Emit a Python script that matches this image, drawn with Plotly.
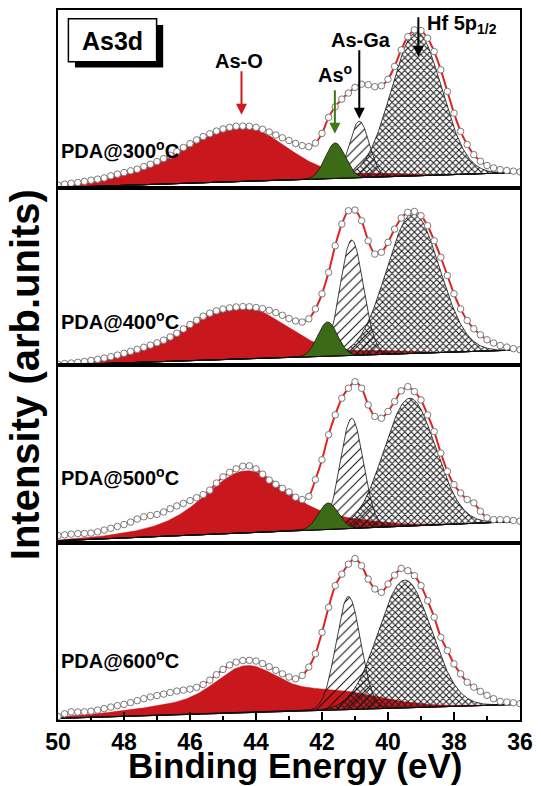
import numpy as np
import plotly.graph_objects as go
from plotly.subplots import make_subplots

# Binding-energy grid of the measured spectra (eV), 50 -> 36 in 0.2 eV steps
energy = np.round(np.arange(50.0, 35.95, -0.2), 1)

anneal_labels = ["PDA@300<sup>o</sup>C", "PDA@400<sup>o</sup>C",
                 "PDA@500<sup>o</sup>C", "PDA@600<sup>o</sup>C"]

# Measured As3d / Hf5p intensity (arb. units, each panel on a 0-100 scale)
counts_300 = [1.3, 1.9, 2.4, 2.8, 3.4, 4.1, 4.7, 5.4, 6.6, 7.5,
              8.4, 9.4, 10.3, 11.8, 13.1, 14.6, 16.3, 18.2, 20.2, 22.5,
              24.7, 26.8, 28.7, 30.3, 31.8, 33.0, 33.9, 34.5, 34.6, 34.5,
              33.9, 32.8, 31.3, 29.6, 28.0, 26.5, 24.8, 23.6, 23.0, 25.0,
              30.5, 39.5, 45.5, 49.8, 53.2, 56.4, 58.2, 57.9, 56.8, 57.3,
              61.0, 68.2, 77.5, 85.0, 88.8, 88.4, 84.1, 76.6, 66.3, 54.1,
              41.9, 31.6, 24.2, 18.5, 14.8, 12.4, 11.0, 10.1, 9.6, 9.2, 8.8]
counts_400 = [0.4, 0.8, 1.1, 1.5, 2.0, 2.6, 3.2, 3.9, 4.7, 5.6,
              6.6, 7.7, 8.8, 10.0, 11.2, 12.5, 14.0, 15.8, 17.9, 20.3,
              22.8, 25.2, 27.5, 29.2, 30.5, 31.5, 32.2, 32.7, 32.9, 32.8,
              32.4, 31.8, 30.8, 29.5, 28.0, 26.2, 24.8, 24.2, 26.0, 31.6,
              40.1, 52.2, 67.2, 79.4, 86.9, 87.3, 81.3, 70.0, 62.5, 63.5,
              69.1, 76.6, 82.8, 86.0, 86.5, 84.1, 78.5, 70.0, 60.7, 50.4,
              40.1, 31.6, 25.1, 20.4, 17.0, 14.2, 12.4, 11.0, 10.1, 9.2, 8.6]
counts_500 = [3.9, 4.3, 4.7, 5.0, 5.1, 5.3, 6.0, 7.0, 8.0, 9.0,
              10.1, 11.5, 13.2, 14.5, 15.2, 15.8, 17.2, 19.0, 20.6, 22.0,
              23.6, 25.2, 27.0, 29.5, 33.5, 37.0, 39.5, 41.5, 43.0, 43.2,
              41.5, 38.5, 35.2, 32.8, 30.5, 28.5, 25.5, 24.2, 26.0, 35.4,
              46.6, 60.7, 71.9, 81.3, 86.9, 90.6, 86.9, 77.5, 71.0, 70.0,
              73.8, 79.4, 85.4, 87.8, 85.0, 80.3, 71.9, 62.5, 50.4, 40.1,
              32.6, 27.9, 24.2, 22.3, 17.6, 13.9, 12.9, 12.9, 12.9, 12.4, 12.0]
counts_600 = [2.0, 3.5, 4.6, 4.5, 4.6, 5.0, 5.6, 6.4, 7.3, 8.1,
              8.8, 9.8, 10.9, 12.0, 13.0, 13.8, 14.6, 15.5, 16.3, 16.8,
              17.4, 18.4, 20.0, 22.5, 25.5, 28.5, 31.0, 32.6, 33.5, 33.6,
              33.2, 31.8, 30.0, 28.0, 26.0, 24.2, 23.2, 25.1, 29.8, 37.3,
              49.4, 63.5, 75.7, 82.2, 87.8, 91.0, 86.9, 79.4, 73.8, 71.9,
              76.6, 81.6, 85.4, 84.1, 81.3, 75.7, 67.2, 57.9, 46.6, 39.1,
              31.6, 26.0, 21.3, 18.5, 16.1, 13.9, 12.0, 10.5, 10.1, 9.7, 9.2]
spectra = [counts_300, counts_400, counts_500, counts_600]

# Linear background: intensity at 50 eV and at 36 eV
background = [(0.0, 8.5), (0.0, 8.5), (1.0, 11.9), (0.9, 8.8)]

# Fitted components: (centre eV, height, gaussian sigma eV)
aso_main = [(44.4, 25.0, 1.35), (44.4, 24.0, 1.35), (44.3, 23.0, 1.10), (44.3, 17.0, 0.85)]
aso_wide = [(46.0, 9.0, 2.0), (46.0, 8.0, 2.0), (44.2, 12.0, 2.2), (44.3, 9.0, 2.6)]
aso_tail = [(40.3, 1.8, 0.8), (40.3, 2.0, 0.8), (41.0, 1.0, 0.8), (41.5, 6.0, 1.3)]
as_metal = [(41.60, 20.0, 0.30), (41.83, 19.3, 0.30), (41.81, 14.9, 0.30), (41.80, 0.0, 0.30)]
as_ga = [(40.87, 31.8, 0.30), (41.10, 65.0, 0.35), (41.10, 62.0, 0.35), (41.20, 63.7, 0.37)]
hf_5p = [(39.14, 81.0, 0.76), (39.24, 79.0, 0.80), (39.34, 72.0, 0.78), (39.49, 72.0, 0.80)]

RED_FILL = "#c8171d"
RED_LINE = "#e3211f"
GREEN = "#3c6b16"
FONT = "Liberation Sans"

fine_e = np.linspace(50.0, 36.0, 701)


def gauss(e, params):
    c, a, s = params
    return a * np.exp(-(e - c) ** 2 / (2.0 * s * s))


def baseline(e, ends):
    lo, hi = ends
    return lo + (hi - lo) * (50.0 - e) / 14.0


def area(bg, comp):
    xs = np.concatenate([fine_e, fine_e[::-1]])
    ys = np.concatenate([bg + comp, bg[::-1]])
    return xs, ys


fig = make_subplots(rows=4, cols=1, shared_xaxes=True, vertical_spacing=0)

for i in range(4):
    row = i + 1
    bg = baseline(fine_e, background[i])

    # As-O (oxide) band
    red = gauss(fine_e, aso_main[i]) + gauss(fine_e, aso_wide[i]) + gauss(fine_e, aso_tail[i])
    xs, ys = area(bg, red)
    fig.add_trace(go.Scatter(x=xs, y=ys, fill="toself", fillcolor=RED_FILL, mode="lines",
                             line=dict(color=RED_FILL, width=0.5), hoverinfo="skip",
                             showlegend=False), row=row, col=1)

    # As-Ga (hatched)
    xs, ys = area(bg, gauss(fine_e, as_ga[i]))
    fig.add_trace(go.Scatter(x=xs, y=ys, fill="toself", fillcolor="rgba(0,0,0,0)", mode="lines",
                             fillpattern=dict(shape="/", fgcolor="#111111", bgcolor="rgba(0,0,0,0)",
                                              size=7, solidity=0.15, fillmode="replace"),
                             line=dict(color="#111111", width=0.8), hoverinfo="skip",
                             showlegend=False), row=row, col=1)

    # Hf 5p1/2 (cross-hatched)
    xs, ys = area(bg, gauss(fine_e, hf_5p[i]))
    fig.add_trace(go.Scatter(x=xs, y=ys, fill="toself", fillcolor="rgba(0,0,0,0)", mode="lines",
                             fillpattern=dict(shape="x", fgcolor="#1a1a1a", bgcolor="rgba(0,0,0,0)",
                                              size=4.5, solidity=0.42, fillmode="replace"),
                             line=dict(color="#111111", width=0.8), hoverinfo="skip",
                             showlegend=False), row=row, col=1)

    # Elemental As
    if as_metal[i][1] > 0:
        xs, ys = area(bg, gauss(fine_e, as_metal[i]))
        fig.add_trace(go.Scatter(x=xs, y=ys, fill="toself", fillcolor=GREEN, mode="lines",
                                 line=dict(color="#111111", width=0.8), hoverinfo="skip",
                                 showlegend=False), row=row, col=1)

    # Background line
    fig.add_trace(go.Scatter(x=fine_e, y=bg, mode="lines", line=dict(color="#111111", width=1),
                             hoverinfo="skip", showlegend=False), row=row, col=1)

    # Fit envelope and measured points
    fig.add_trace(go.Scatter(x=energy, y=spectra[i], mode="lines",
                             line=dict(color=RED_LINE, width=2, shape="spline", smoothing=0.8),
                             showlegend=False), row=row, col=1)
    fig.add_trace(go.Scatter(x=energy, y=spectra[i], mode="markers",
                             marker=dict(symbol="circle", size=6.5, color="white",
                                         line=dict(color="#7a7a7a", width=1)),
                             showlegend=False), row=row, col=1)

    yref = "y" if row == 1 else f"y{row}"
    label_y = [21.2, 25.3, 37.2, 34.3][i]
    fig.add_annotation(text=anneal_labels[i], xref="paper", x=0.002, xanchor="left",
                       yref=yref, y=label_y, yanchor="middle", showarrow=False,
                       font=dict(family=FONT, size=20, color="black", weight="bold"))

    fig.update_yaxes(range=[0, 100], showticklabels=False, ticks="", showgrid=False,
                     zeroline=False, showline=True, mirror=True, linewidth=2,
                     linecolor="black", row=row, col=1)
    fig.update_xaxes(range=[50, 36], showgrid=False, zeroline=False, showline=True,
                     mirror=True, linewidth=2, linecolor="black", ticks="",
                     row=row, col=1)

fig.update_xaxes(ticks="inside", tick0=36, dtick=2, ticklen=8, tickwidth=2, tickcolor="black",
                 showticklabels=True, ticklabeloverflow="allow",
                 tickfont=dict(family=FONT, size=23, color="black", weight="bold"),
                 minor=dict(ticks="inside", dtick=1, ticklen=4, tickwidth=1.5, tickcolor="black"),
                 row=4, col=1)

# Peak markers in the top panel
arrow_kw = dict(xref="x", yref="y", text="", showarrow=True, arrowhead=2,
                arrowsize=1.1, arrowwidth=2, ax=0)
fig.add_annotation(x=44.44, y=41.0, ay=-45, arrowcolor="#d11a1f", **arrow_kw)
fig.add_annotation(x=41.61, y=30.3, ay=-45, arrowcolor="#3c7a12", **arrow_kw)
fig.add_annotation(x=40.87, y=38.8, ay=-70, arrowcolor="black", **arrow_kw)
fig.add_annotation(x=39.08, y=73.6, ay=-41, arrowcolor="black", **arrow_kw)

label_font = dict(family=FONT, size=20, color="black", weight="bold")
fig.add_annotation(x=44.52, y=71.3, xref="x", yref="y", text="As-O", showarrow=False,
                   xanchor="center", yanchor="middle", font=label_font)
fig.add_annotation(x=41.61, y=64.0, xref="x", yref="y", text="As<sup>o</sup>", showarrow=False,
                   xanchor="center", yanchor="middle", font=label_font)
fig.add_annotation(x=40.81, y=83.1, xref="x", yref="y", text="As-Ga", showarrow=False,
                   xanchor="center", yanchor="middle", font=label_font)
fig.add_annotation(x=38.88, y=91.6, xref="x", yref="y", text="Hf 5p<sub>1/2</sub>", xanchor="left",
                   yanchor="middle", showarrow=False, font=label_font)

# "As3d" boxed tag with drop shadow
fig.add_shape(type="rect", xref="x", yref="y", x0=49.486, x1=46.813, y0=67.6, y1=91.6,
              fillcolor="black", line=dict(width=0))
fig.add_shape(type="rect", xref="x", yref="y", x0=49.685, x1=47.012, y0=70.8, y1=95.1,
              fillcolor="white", line=dict(color="black", width=1.5))
fig.add_annotation(x=48.35, y=82.5, xref="x", yref="y", text="As3d", showarrow=False,
                   xanchor="center", yanchor="middle",
                   font=dict(family=FONT, size=25, color="black", weight="bold"))

# Axis titles
fig.add_annotation(text="Binding Energy (eV)", xref="paper", yref="paper", x=0.514, y=-0.0646,
                   xanchor="center", yanchor="middle", showarrow=False,
                   font=dict(family=FONT, size=35, color="black", weight="bold"))
fig.add_annotation(text="Intensity (arb.units)", xref="paper", yref="paper", x=-0.0715, y=0.487,
                   xanchor="center", yanchor="middle", textangle=-90, showarrow=False,
                   font=dict(family=FONT, size=40, color="black", weight="bold"))

fig.update_layout(width=541, height=786, margin=dict(l=58, r=12, t=8, b=66),
                  paper_bgcolor="white", plot_bgcolor="white", showlegend=False)

fig.write_html("out.html")
